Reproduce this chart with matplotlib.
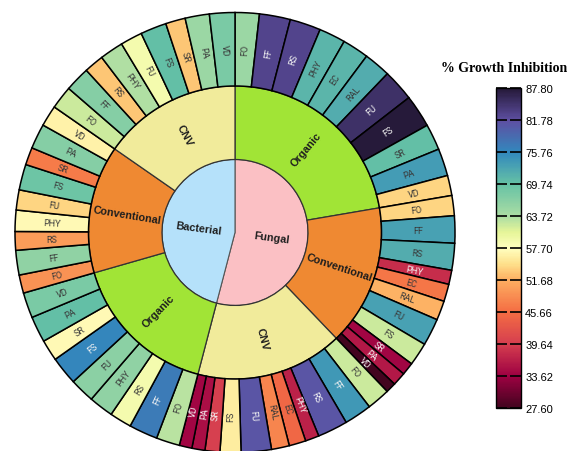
import numpy as np
import matplotlib
matplotlib.use("Agg")
import matplotlib.pyplot as plt
from matplotlib.colors import LinearSegmentedColormap, Normalize, to_rgb
from matplotlib.cm import ScalarMappable

# ---------------- data ----------------
kingdoms = ["Fungal", "Bacterial"]
practices = ["Organic", "Conventional", "CNV"]
fungal_pathogens = ["FO", "FF", "RS", "PHY", "EC", "RAL", "FU", "FS", "SR", "PA", "VD"]
bacterial_pathogens = ["FO", "FF", "RS", "PHY", "FU", "FS", "SR", "PA", "VD"]

fungal_organic = [65.0, 83.0, 83.0, 71.0, 71.0, 72.0, 85.0, 87.8, 70.0, 73.5, 54.0]
fungal_conventional = [54.0, 73.0, 72.0, 38.0, 46.5, 52.0, 73.0, 62.0, 34.0, 36.0, 27.6]
fungal_cnv = [62.0, 74.0, 81.0, 37.0, 45.0, 48.0, 81.0, 56.0, 40.0, 35.0, 34.0]
bacterial_organic = [63.0, 77.0, 59.0, 66.0, 66.5, 76.0, 57.0, 70.0, 68.0]
bacterial_conventional = [49.0, 66.0, 50.0, 57.0, 54.0, 69.0, 47.0, 67.0, 56.5]
bacterial_cnv = [62.0, 67.0, 53.0, 63.5, 59.0, 70.0, 53.0, 65.0, 68.0]

cbar_title = "% Growth Inhibition"

# ---------------- assemble ----------------
groups = [
    ("Fungal", "Organic", fungal_pathogens, fungal_organic),
    ("Fungal", "Conventional", fungal_pathogens, fungal_conventional),
    ("Fungal", "CNV", fungal_pathogens, fungal_cnv),
    ("Bacterial", "Organic", bacterial_pathogens, bacterial_organic),
    ("Bacterial", "Conventional", bacterial_pathogens, bacterial_conventional),
    ("Bacterial", "CNV", bacterial_pathogens, bacterial_cnv),
]
leaf_labels, leaf_vals = [], []
mid_labels, mid_vals = [], []
for k, p, names, vals in groups:
    leaf_labels += names
    leaf_vals += vals
    mid_labels.append(p)
    mid_vals.append(sum(vals))
inner_vals = [sum(fungal_organic) + sum(fungal_conventional) + sum(fungal_cnv),
              sum(bacterial_organic) + sum(bacterial_conventional) + sum(bacterial_cnv)]

vmin, vmax = min(leaf_vals), max(leaf_vals)
cmap = LinearSegmentedColormap.from_list("gi", [
    (0.00, "#43041f"), (0.10, "#9e0142"), (0.20, "#d53e4f"), (0.30, "#f46d43"),
    (0.40, "#fdae61"), (0.45, "#fee08b"), (0.50, "#ffffbf"), (0.55, "#e6f598"),
    (0.60, "#abdda4"), (0.70, "#66c2a5"), (0.80, "#3288bd"), (0.90, "#5e4fa2"),
    (1.00, "#261a3a")])
norm = Normalize(vmin=vmin, vmax=vmax)
leaf_colors = [cmap(norm(v)) for v in leaf_vals]

kingdom_colors = {"Fungal": "#fbc0c4", "Bacterial": "#b5e1fa"}
practice_colors = {"Organic": "#a1e436", "Conventional": "#ef8932", "CNV": "#f1eb9b"}

# ---------------- figure ----------------
W, H = 576, 452
fig = plt.figure(figsize=(W / 100, H / 100), dpi=100)
ax = fig.add_axes([0, 0, 1, 1])

cx, cy = 235.0, H - 233.5
R_in, R_mid, R_out = 73.0, 146.5, 220.0

ax.pie(inner_vals, radius=R_in, center=(cx, cy), startangle=90, counterclock=False,
       colors=[kingdom_colors[k] for k in kingdoms],
       wedgeprops=dict(edgecolor="#555555", linewidth=0.8), frame=True)
ax.pie(mid_vals, radius=R_mid, center=(cx, cy), startangle=90, counterclock=False,
       colors=[practice_colors[p] for p in mid_labels],
       wedgeprops=dict(width=R_mid - R_in, edgecolor="#333333", linewidth=0.9), frame=True)
ax.pie(leaf_vals, radius=R_out, center=(cx, cy), startangle=90, counterclock=False,
       colors=leaf_colors,
       wedgeprops=dict(width=R_out - R_mid, edgecolor="black", linewidth=1.1), frame=True)


def mid_angles(vals):
    v = np.asarray(vals, float)
    cum = np.cumsum(v) / v.sum()
    frac = v / v.sum()
    return 90.0 - 360.0 * (cum - frac / 2.0)


def text_color(col):
    lin = [(x / 12.92) if x <= 0.04045 else ((x + 0.055) / 1.055) ** 2.4 for x in to_rgb(col)]
    lum = 0.2126 * lin[0] + 0.7152 * lin[1] + 0.0722 * lin[2]
    return "#f4f4f4" if lum < 0.27 else "#3a3a3a"


def place(labels, vals, r, colors=None, **kw):
    for i, (lab, ang) in enumerate(zip(labels, mid_angles(vals))):
        t = np.deg2rad(ang)
        rot = ((ang + 90.0) % 180.0) - 90.0
        c = text_color(colors[i]) if colors is not None else "#1e1e1e"
        ax.text(cx + r * np.cos(t), cy + r * np.sin(t), lab, rotation=rot,
                rotation_mode="anchor", ha="center", va="center", color=c, **kw)


place(leaf_labels, leaf_vals, (R_mid + R_out) / 2, colors=leaf_colors,
      fontsize=6.5, family="Roboto")
place(mid_labels, mid_vals, (R_in + R_mid) / 2, fontsize=7.8, family="Liberation Sans",
      fontweight="bold")
place(kingdoms, inner_vals, R_in * 0.5, fontsize=7.8, family="Liberation Sans",
      fontweight="bold")

ax.set_xlim(0, W)
ax.set_ylim(0, H)
ax.set_aspect("equal")
ax.set_axis_off()

# ---------------- colorbar ----------------
cax = fig.add_axes([496 / W, (H - 409) / H, 25 / W, 320 / H])
sm = ScalarMappable(norm=norm, cmap=cmap)
ticks = np.linspace(vmin, vmax, 11)
cb = fig.colorbar(sm, cax=cax, ticks=ticks)
cb.ax.set_yticklabels([f"{t:.2f}" for t in ticks])
cb.ax.tick_params(direction="in", length=8, width=1.2, color="black",
                  left=True, right=True, labelsize=8, pad=3)
for lab in cb.ax.get_yticklabels():
    lab.set_family("Liberation Sans")
cb.outline.set_linewidth(1.0)
fig.text(504 / W, 1 - 68 / H, cbar_title, ha="center", va="center",
         family="Liberation Serif", fontweight="bold", fontsize=10)

fig.savefig("out.png", dpi=100)
